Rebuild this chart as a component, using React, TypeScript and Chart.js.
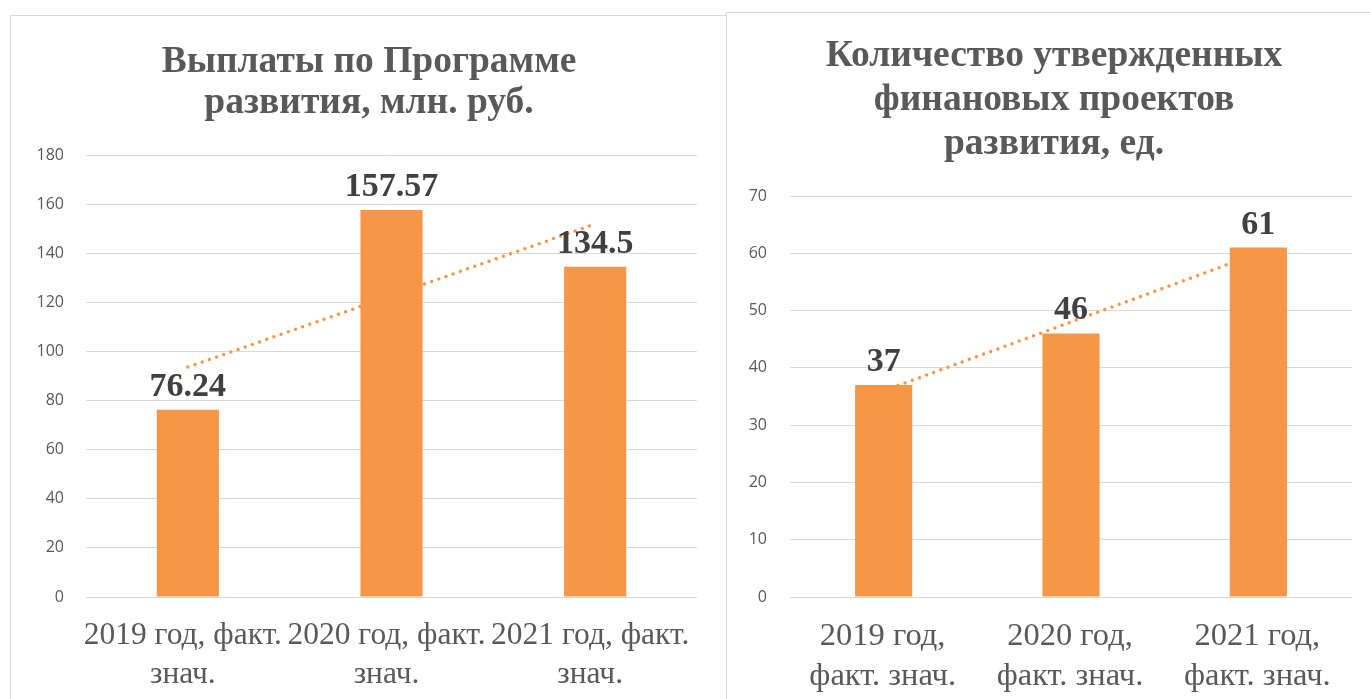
import React, { useEffect, useRef } from "react";
import { Chart, registerables } from "chart.js";

Chart.register(...registerables);

// ---------- data ----------
const paymentTitle = ["Выплаты по Программе", "развития, млн. руб."];
const paymentCategories = [
  ["2019 год, факт.", "знач."],
  ["2020 год, факт.", "знач."],
  ["2021 год, факт.", "знач."],
];
const paymentValues = [76.24, 157.57, 134.5];
const paymentAxisMax = 180;
const paymentAxisStep = 20;

const projectTitle = ["Количество утвержденных", "финановых проектов", "развития, ед."];
const projectCategories = [
  ["2019 год,", "факт. знач."],
  ["2020 год,", "факт. знач."],
  ["2021 год,", "факт. знач."],
];
const projectValues = [37, 46, 61];
const projectAxisMax = 70;
const projectAxisStep = 10;

// ---------- helpers ----------
const ORANGE = "#F79646";
const GRID = "#D9D9D9";
const TEXT = "#595959";
const SERIF = '"Liberation Serif", "Times New Roman", serif';
const SANS = '"Open Sans", "Noto Sans", sans-serif';

// least-squares linear trend line (Excel-style trendline) from the bar values
function linearTrend(values: number[]): number[] {
  const n = values.length;
  const xs = values.map((_, i) => i + 1);
  const mx = xs.reduce((a, b) => a + b, 0) / n;
  const my = values.reduce((a, b) => a + b, 0) / n;
  let num = 0;
  let den = 0;
  for (let i = 0; i < n; i++) {
    num += (xs[i] - mx) * (values[i] - my);
    den += (xs[i] - mx) * (xs[i] - mx);
  }
  const slope = num / den;
  return xs.map((x) => my + slope * (x - mx));
}

const valueLabels = {
  id: "valueLabels",
  afterDatasetsDraw(chart: any, _args: any, opts: any) {
    const ctx = chart.ctx;
    chart.data.datasets.forEach((ds: any, di: number) => {
      if (ds.type !== "bar") return;
      const meta = chart.getDatasetMeta(di);
      meta.data.forEach((el: any, i: number) => {
        ctx.save();
        ctx.font = `bold ${opts.size}px ${SERIF}`;
        ctx.fillStyle = "#404040";
        ctx.textAlign = "center";
        ctx.textBaseline = "alphabetic";
        ctx.fillText(String(ds.data[i]), el.x, el.y - opts.offset);
        ctx.restore();
      });
    });
  },
};

// multi-line chart title centred on the panel (not on the plot area)
const panelTitle = {
  id: "panelTitle",
  afterDraw(chart: any, _args: any, opts: any) {
    const ctx = chart.ctx;
    ctx.save();
    ctx.font = `bold ${opts.size}px ${SERIF}`;
    ctx.fillStyle = TEXT;
    ctx.textAlign = "center";
    ctx.textBaseline = "middle";
    (opts.lines as string[]).forEach((line, i) => {
      ctx.fillText(line, opts.x, opts.top + i * opts.gap);
    });
    ctx.restore();
  },
};

type Cfg = {
  title: string[];
  categories: string[][];
  values: number[];
  max: number;
  step: number;
  width: number;
  height: number;
  yWidth: number;
  padRight: number;
  padTop: number;
  titleX: number;
  titleTop: number;
  titleGap: number;
  yPad: number;
  xFont: number;
  xShift: number;
};

function BarPanel(props: { cfg: Cfg; style: React.CSSProperties }) {
  const ref = useRef<HTMLCanvasElement | null>(null);
  const { cfg } = props;
  useEffect(() => {
    if (!ref.current) return;
    const chart = new Chart(ref.current, {
      type: "bar",
      data: {
        labels: cfg.categories as any,
        datasets: [
          {
            type: "bar",
            data: cfg.values,
            backgroundColor: ORANGE,
            borderWidth: 0,
            barPercentage: 0.305,
            categoryPercentage: 1,
            order: 1,
          } as any,
          {
            type: "line",
            data: linearTrend(cfg.values),
            borderColor: ORANGE,
            borderWidth: 3.5,
            borderDash: [0, 7.6],
            borderCapStyle: "round",
            pointRadius: 0,
            fill: false,
            tension: 0,
            order: 2,
          } as any,
        ],
      },
      options: {
        responsive: false,
        animation: false,
        devicePixelRatio: 1,
        layout: { padding: { left: 0, right: cfg.padRight, top: cfg.padTop, bottom: 0 } },
        plugins: {
          legend: { display: false },
          tooltip: { enabled: false },
          title: { display: false },
          panelTitle: {
            lines: cfg.title,
            size: 37.5,
            x: cfg.titleX,
            top: cfg.titleTop,
            gap: cfg.titleGap,
          },
          valueLabels: { size: 34, offset: 14 },
        } as any,
        scales: {
          x: {
            grid: { display: false },
            border: { display: false },
            ticks: {
              color: TEXT,
              font: { family: SERIF, size: cfg.xFont, lineHeight: 1.22 },
              padding: 12,
              labelOffset: cfg.xShift,
              maxRotation: 0,
              minRotation: 0,
              autoSkip: false,
            },
            afterFit: (s: any) => {
              s.height = 102;
            },
          },
          y: {
            min: 0,
            max: cfg.max,
            grid: { color: GRID, lineWidth: 1, drawTicks: false },
            border: { display: false },
            ticks: {
              stepSize: cfg.step,
              color: TEXT,
              font: { family: SANS, size: 16 },
              padding: cfg.yPad,
            },
            afterFit: (s: any) => {
              s.width = cfg.yWidth;
            },
          },
        },
      },
      plugins: [valueLabels as any, panelTitle as any],
    });
    return () => chart.destroy();
  }, []);
  return (
    <canvas
      ref={ref}
      width={cfg.width}
      height={cfg.height}
      style={{ position: "absolute", width: cfg.width, height: cfg.height, ...props.style }}
    />
  );
}

const leftCfg: Cfg = {
  title: paymentTitle,
  categories: paymentCategories,
  values: paymentValues,
  max: paymentAxisMax,
  step: paymentAxisStep,
  width: 715,
  height: 684,
  yWidth: 76,
  padRight: 28,
  padTop: 140,
  titleX: 359,
  titleTop: 47,
  titleGap: 41.5,
  yPad: 22,
  xFont: 31.5,
  xShift: -5,
};

const rightCfg: Cfg = {
  title: projectTitle,
  categories: projectCategories,
  values: projectValues,
  max: projectAxisMax,
  step: projectAxisStep,
  width: 643,
  height: 686,
  yWidth: 63,
  padRight: 18,
  padTop: 183,
  titleX: 327,
  titleTop: 43,
  titleGap: 44,
  yPad: 23,
  xFont: 32.5,
  xShift: -1,
};

export default function App() {
  return (
    <div
      style={{
        position: "fixed",
        left: 0,
        top: 0,
        width: 1370,
        height: 699,
        overflow: "hidden",
        background: "#fff",
      }}
    >
      <div
        style={{
          position: "absolute",
          left: 10,
          top: 15,
          width: 720,
          height: 720,
          border: `1px solid ${GRID}`,
          boxSizing: "border-box",
          background: "#fff",
        }}
      />
      <BarPanel cfg={leftCfg} style={{ left: 10, top: 15 }} />
      <div
        style={{
          position: "absolute",
          left: 726,
          top: 12,
          width: 700,
          height: 720,
          border: `1px solid ${GRID}`,
          boxSizing: "border-box",
          background: "#fff",
        }}
      />
      <BarPanel cfg={rightCfg} style={{ left: 727, top: 13 }} />
    </div>
  );
}
